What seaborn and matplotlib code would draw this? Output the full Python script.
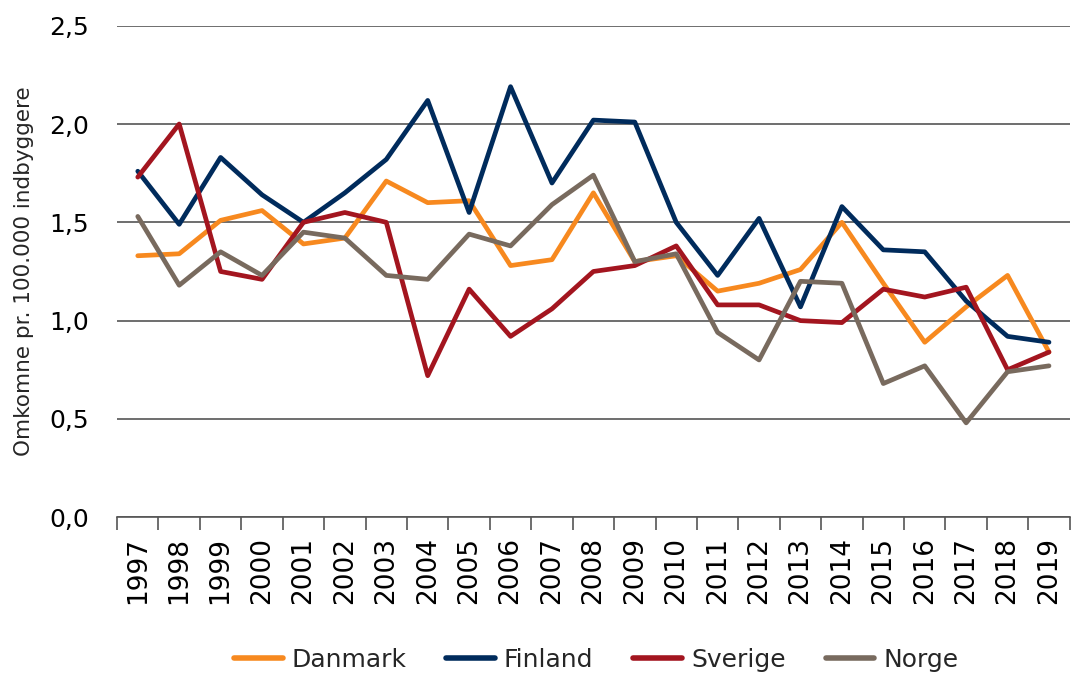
import matplotlib
matplotlib.use("Agg")
import matplotlib.pyplot as plt
from matplotlib.ticker import FixedLocator, FuncFormatter
import pandas as pd
import seaborn as sns

years = list(range(1997, 2020))

danmark = [1.33, 1.34, 1.51, 1.56, 1.39, 1.42, 1.71, 1.60, 1.61, 1.28, 1.31, 1.65,
           1.30, 1.33, 1.15, 1.19, 1.26, 1.50, 1.19, 0.89, 1.07, 1.23, 0.84]
finland = [1.76, 1.49, 1.83, 1.64, 1.50, 1.65, 1.82, 2.12, 1.55, 2.19, 1.70, 2.02,
           2.01, 1.50, 1.23, 1.52, 1.07, 1.58, 1.36, 1.35, 1.10, 0.92, 0.89]
sverige = [1.73, 2.00, 1.25, 1.21, 1.50, 1.55, 1.50, 0.72, 1.16, 0.92, 1.06, 1.25,
           1.28, 1.38, 1.08, 1.08, 1.00, 0.99, 1.16, 1.12, 1.17, 0.75, 0.84]
norge = [1.53, 1.18, 1.35, 1.23, 1.45, 1.42, 1.23, 1.21, 1.44, 1.38, 1.59, 1.74,
         1.30, 1.34, 0.94, 0.80, 1.20, 1.19, 0.68, 0.77, 0.48, 0.74, 0.77]

countries = ["Danmark", "Finland", "Sverige", "Norge"]
colors = ["#F7891F", "#002B5C", "#A3151F", "#786A5E"]

df = pd.DataFrame({"Danmark": danmark, "Finland": finland,
                   "Sverige": sverige, "Norge": norge})
df["pos"] = range(len(years))
df_long = df.melt(id_vars="pos", var_name="Land", value_name="Omkomne")

sns.set_theme(style="white")
plt.rcParams["font.family"] = ["DejaVu Sans"]

fig = plt.figure(figsize=(10.74, 6.77), dpi=100)
ax = fig.add_axes([0.109, 0.236, 0.887, 0.726])

sns.lineplot(data=df_long, x="pos", y="Omkomne", hue="Land",
             hue_order=countries, palette=colors, linewidth=3.4,
             ax=ax, legend=False, sort=False)

ax.set_xlim(-0.5, len(years) - 0.5)
ax.set_ylim(0, 2.5)
ax.set_yticks([0, 0.5, 1.0, 1.5, 2.0, 2.5])
ax.yaxis.set_major_formatter(FuncFormatter(lambda v, p: f"{v:.1f}".replace(".", ",")))
ax.grid(axis="y", color="#555555", linewidth=1.2)
ax.set_axisbelow(True)

for s in ["top", "right", "left"]:
    ax.spines[s].set_visible(False)
ax.spines["bottom"].set_color("#555555")
ax.spines["bottom"].set_linewidth(1.2)

ax.set_xticks(range(len(years)))
ax.set_xticklabels([str(y) for y in years], rotation=90)
ax.xaxis.set_minor_locator(FixedLocator([i - 0.5 for i in range(len(years) + 1)]))
ax.tick_params(axis="x", which="major", length=0, pad=14, labelsize=19, colors="black")
ax.tick_params(axis="x", which="minor", length=9, width=1.2, color="#555555", bottom=True)
ax.tick_params(axis="y", length=0, pad=20, labelsize=18, colors="black")

ax.set_xlabel("")
ax.set_ylabel("Omkomne pr. 100.000 indbyggere", fontsize=15.5)
ax.yaxis.set_label_coords(-0.087, 0.5)

handles = [plt.Line2D([], [], color=c, linewidth=4) for c in colors]
fig.legend(handles, countries, loc="center", bbox_to_anchor=(0.555, 0.025),
           ncol=4, frameon=False, fontsize=18, handlelength=1.95,
           handletextpad=0.35, columnspacing=1.6)

fig.savefig("out.png", dpi=100)
